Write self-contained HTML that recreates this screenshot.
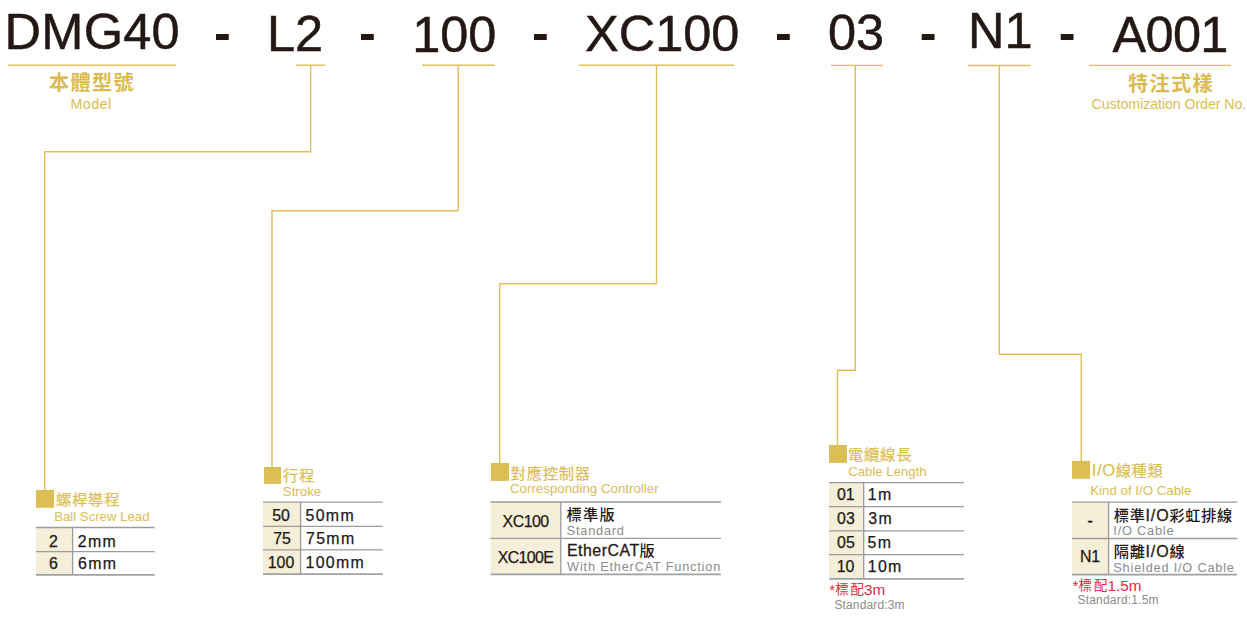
<!DOCTYPE html>
<html lang="zh-Hant">
<head>
<meta charset="utf-8">
<title>DMG40 Order Code</title>
<style>
  html, body { margin: 0; padding: 0; background: #ffffff; }
  body { width: 1247px; height: 617px; position: relative; overflow: hidden;
         font-family: "Liberation Sans", "Noto Sans CJK TC", sans-serif; color: #231815; }
  .abs { position: absolute; white-space: nowrap; }
  /* big code row */
  .code { position: absolute; white-space: nowrap; font-size: 50.5px; line-height: 50px; color: #231815; -webkit-text-stroke: 0.5px #231815; }
  .hy { font-weight: 700; -webkit-text-stroke: 0; }
  .ttl { position: absolute; white-space: nowrap; font-size: 15.3px; line-height: 16px; color: #dcbd54; letter-spacing: 0.75px; -webkit-text-stroke: 0.2px #dcbd54; }
  .sub { position: absolute; white-space: nowrap; font-size: 13.3px; line-height: 14px; color: #dcbd54; }
  .big-cjk { position: absolute; white-space: nowrap; font-size: 20.2px; line-height: 20px; font-weight: 700; color: #dbbb50; letter-spacing: 1.3px; }
  .cg { position: absolute; white-space: nowrap; font-size: 14.3px; line-height: 14px; color: #dcbd54; letter-spacing: 0.5px; }
  /* tables */
  .k { position: absolute; text-align: center; white-space: nowrap; font-size: 15.9px; line-height: 16px; font-weight: 400; color: #231815; -webkit-text-stroke: 0.25px #231815; }
  .v { position: absolute; white-space: nowrap; font-size: 15.9px; line-height: 16px; font-weight: 400; color: #231815; -webkit-text-stroke: 0.25px #231815; letter-spacing: 1.3px; }
  .v.c { font-weight: 500; font-size: 15.2px; -webkit-text-stroke: 0; letter-spacing: 0.65px; }
  .en { position: absolute; white-space: nowrap; font-size: 12.8px; line-height: 13px; color: #8c8c8c; letter-spacing: 0.78px; }
  .io { font-size: 16px; letter-spacing: 0.9px; -webkit-text-stroke: 0.3px #231815; }
  .red { position: absolute; white-space: nowrap; font-size: 15.3px; line-height: 15px; color: #e8283c; }
  .rc { font-size: 13.4px; letter-spacing: 2px; margin-right: -1.9px; position: relative; top: -0.9px; }
  .note { position: absolute; white-space: nowrap; font-size: 12px; line-height: 12px; color: #8c8c8c; }
</style>
</head>
<body>

<!-- ===== code row ===== -->
<div class="code" style="left:4.6px;  top:7px; letter-spacing:0.25px;">DMG40</div>
<div class="code hy" style="left:214px; top:8px;">-</div>
<div class="code" style="left:267px; top:9px;">L2</div>
<div class="code hy" style="left:359px; top:8px;">-</div>
<div class="code" style="left:412.2px; top:9.5px;">100</div>
<div class="code hy" style="left:532px; top:8px;">-</div>
<div class="code" style="left:585px; top:9px;">XC100</div>
<div class="code hy" style="left:775px; top:8px;">-</div>
<div class="code" style="left:828px; top:8px;">03</div>
<div class="code hy" style="left:919.8px; top:8px;">-</div>
<div class="code" style="left:968px; top:6.1px;">N1</div>
<div class="code hy" style="left:1058.8px; top:8px;">-</div>
<div class="code" style="left:1112.6px; top:10px; letter-spacing:-0.7px;">A001</div>

<svg class="abs" style="left:0;top:0" width="1247" height="617" viewBox="0 0 1247 617">
  <g fill="#f5eed8">
    <rect x="36"    y="527.5" width="36.6" height="47.3"/>
    <rect x="263"   y="502.2"   width="37.6" height="72"/>
    <rect x="490.5" y="502" width="70.3" height="72.4"/>
    <rect x="829.1" y="482.7" width="34.6" height="96.2"/>
    <rect x="1072"  y="502.2" width="36.6" height="72.4"/>
  </g>
  <g fill="none" stroke="#9c9c9c" stroke-width="1.3">
    <path d="M36,527.5H154.7M36,551.7H154.7M72.6,527.5V574.8"/>
    <path d="M263,502.2H382.8M263,526.3H382.8M263,549.9H382.8M300.6,502.2V574.2"/>
    <path d="M490.5,502H720.9M490.5,538.4H720.9M560.8,502V574.4"/>
    <path d="M829.1,482.7H964.1M829.1,506.7H964.1M829.1,530.8H964.1M829.1,554.7H964.1M863.7,482.7V578.9"/>
    <path d="M1072,502.2H1237.2M1072,538.5H1237.2M1108.6,502.2V574.6"/>
  </g>
  <g fill="none" stroke="#a0a0a0" stroke-width="1.7">
    <path d="M36,574.8H154.7"/>
    <path d="M263,574.2H382.8"/>
    <path d="M490.5,574.4H720.9"/>
    <path d="M829.1,578.9H964.1"/>
    <path d="M1072,574.6H1237.2"/>
  </g>
  <g fill="none" stroke="#dec05a" stroke-width="1.4">
    <!-- underlines -->
    <path d="M7.8,65.3H176"/>
    <path d="M296,65.2H325"/>
    <path d="M422,65.2H494.5"/>
    <path d="M579,65.2H734"/>
    <path d="M831,65.4H883"/>
    <path d="M968,65.5H1030.5"/>
    <path d="M1089,65.4H1231"/>
    <!-- connectors -->
    <path d="M310.65,65.2V151.7H44.75V491"/>
    <path d="M458.2,65.2V210.7H272V468"/>
    <path d="M656.5,65.2V283.7H499.7V464"/>
    <path d="M855.3,65.4V370.2H837.5V446"/>
    <path d="M999.3,65.5V354.2H1081.25V462"/>
  </g>
  <g fill="#dcbe54">
    <rect x="36"   y="489.9" width="18" height="17.9"/>
    <rect x="264"  y="467"   width="17" height="16.9"/>
    <rect x="491"  y="463"   width="18" height="17.9"/>
    <rect x="829"  y="445"   width="18" height="17.9"/>
    <rect x="1072" y="460.9" width="18" height="17.9"/>
  </g>
</svg>

<!-- labels under DMG40 and A001 -->
<div class="big-cjk" style="left:49px; top:73px;">本體型號</div>
<div class="cg" style="left:70.4px; top:96.8px; letter-spacing:0.45px;">Model</div>
<div class="big-cjk" style="left:1128px; top:73.7px;">特注式樣</div>
<div class="cg" style="left:1091.6px; top:96.8px; letter-spacing:-0.12px;">Customization Order No.</div>

<!-- ===== Ball Screw Lead ===== -->
<div class="ttl" style="left:56px; top:492.2px;">螺桿導程</div>
<div class="sub" style="left:54.2px; top:509.7px; font-size:13.2px;">Ball Screw Lead</div>
<div class="k" style="left:35.0px; width:36.6px; top:534.4px;">2</div><div class="v" style="left:77.8px; top:534.4px;">2mm</div>
<div class="k" style="left:35.2px; width:36.6px; top:555.7px;">6</div><div class="v" style="left:78.1px; top:555.7px;">6mm</div>

<!-- ===== Stroke ===== -->
<div class="ttl" style="left:283px; top:468.2px;">行程</div>
<div class="sub" style="left:282.8px; top:484.5px;">Stroke</div>
<div class="k" style="left:262.2px; width:37.6px; top:508.1px;">50</div><div class="v" style="left:305.6px; top:508.1px;">50mm</div>
<div class="k" style="left:263.2px; width:37.6px; top:531.2px;">75</div><div class="v" style="left:306.1px; top:531.2px;">75mm</div>
<div class="k" style="left:262.2px; width:37.6px; top:555.2px;">100</div><div class="v" style="left:305.5px; top:555.1px;">100mm</div>

<!-- ===== Corresponding Controller ===== -->
<div class="ttl" style="left:510.6px; top:465.7px;">對應控制器</div>
<div class="sub" style="left:510px; top:482.1px;">Corresponding Controller</div>
<div class="k" style="left:490.4px; width:70.5px; top:513.9px; letter-spacing:-0.5px;">XC100</div>
<div class="v c" style="left:566.4px; top:507.3px; letter-spacing:1.4px;">標準版</div>
<div class="en" style="left:566.6px; top:524.4px;">Standard</div>
<div class="k" style="left:490.2px; width:70.5px; top:549.8px; letter-spacing:-0.6px;">XC100E</div>
<div class="v c" style="left:567px; top:543px;"><span style="font-size:15.9px;letter-spacing:0.5px;-webkit-text-stroke:0.3px #231815">EtherCAT</span>版</div>
<div class="en" style="left:567.1px; top:560.2px;">With EtherCAT Function</div>

<!-- ===== Cable Length ===== -->
<div class="ttl" style="left:848px; top:446.9px;">電纜線長</div>
<div class="sub" style="left:848.2px; top:464.6px; font-size:13.2px;">Cable Length</div>
<div class="k" style="left:828.5px; width:34.6px; top:486.5px;">01</div><div class="v" style="left:867.8px; top:486.5px;">1m</div>
<div class="k" style="left:828.6px; width:34.6px; top:510.5px;">03</div><div class="v" style="left:868.3px; top:510.5px;">3m</div>
<div class="k" style="left:828.6px; width:34.6px; top:535.3px;">05</div><div class="v" style="left:867.6px; top:535.3px;">5m</div>
<div class="k" style="left:828.3px; width:34.6px; top:559.0px;">10</div><div class="v" style="left:867.8px; top:559.0px;">10m</div>
<div class="red" style="left:829.2px; top:581.8px;">*<span class="rc">標配</span>3m</div>
<div class="note" style="left:834.4px; top:598.6px; letter-spacing:0.15px;">Standard:3m</div>

<!-- ===== Kind of I/O Cable ===== -->
<div class="ttl" style="left:1091.8px; top:462.5px; letter-spacing:0.4px;"><span style="font-size:16.6px;letter-spacing:0.6px">I/O</span>線種類</div>
<div class="sub" style="left:1090.2px; top:483.6px;">Kind of I/O Cable</div>
<div class="k" style="left:1071.7px; width:36.9px; top:512.6px; -webkit-text-stroke:0.45px #231815;">-</div>
<div class="v c" style="left:1113.8px; top:508.4px;">標準<span class="io">I/O</span>彩虹排線</div>
<div class="en" style="left:1113.3px; top:523.7px;">I/O Cable</div>
<div class="k" style="left:1071.6px; width:36.9px; top:549.3px;">N1</div>
<div class="v c" style="left:1113.8px; top:543.7px;">隔離<span class="io">I/O</span>線</div>
<div class="en" style="left:1113.3px; top:560.9px;">Shielded I/O Cable</div>
<div class="red" style="left:1072.6px; top:577.6px;">*<span class="rc">標配</span>1.5m</div>
<div class="note" style="left:1077.5px; top:594.3px; letter-spacing:0.2px;">Standard:1.5m</div>

</body>
</html>
